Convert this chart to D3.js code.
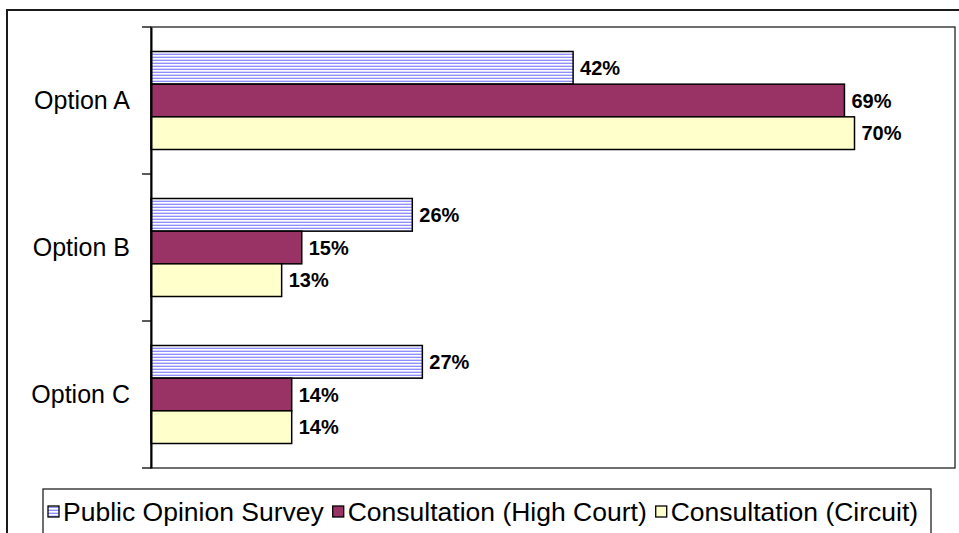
<!DOCTYPE html>
<html>
<head>
<meta charset="utf-8">
<script src="https://cdn.jsdelivr.net/npm/d3@7"></script>
<style>
  html, body { margin: 0; padding: 0; background: #fff; }
  svg { display: block; font-family: "Liberation Sans", Arial, sans-serif; }
</style>
</head>
<body>
<svg id="chart" width="959" height="533"></svg>
<script>
// ---- data ----
const categories = ["Option A", "Option B", "Option C"];
const seriesNames = ["Public Opinion Survey", "Consultation (High Court)", "Consultation (Circuit)"];
const surveyValues = [42, 26, 27];
const highCourtValues = [69, 15, 14];
const circuitValues = [70, 13, 14];
const xDomain = [0, 80];

const seriesValues = [surveyValues, highCourtValues, circuitValues];
const seriesFill = ["url(#stripes)", "#993366", "#ffffcc"];

const svg = d3.select("#chart");

// pattern
const defs = svg.append("defs");
const pat = defs.append("pattern").attr("id", "stripes")
  .attr("patternUnits", "userSpaceOnUse").attr("width", 6).attr("height", 3);
pat.append("rect").attr("width", 6).attr("height", 3).attr("fill", "#ffffff");
pat.append("rect").attr("y", 0).attr("width", 6).attr("height", 1).attr("fill", "#8f8fff");
pat.append("rect").attr("y", 2).attr("width", 6).attr("height", 1).attr("fill", "#d6d6ff");

// outer chart border (extends beyond the viewport on right & bottom)
svg.append("rect").attr("x", 7).attr("y", 10).attr("width", 1000).attr("height", 600)
  .attr("fill", "none").attr("stroke", "#1a1a1a").attr("stroke-width", 2);

const plot = { left: 151, top: 27, right: 955, bottom: 468 };

const x = d3.scaleLinear().domain(xDomain).range([plot.left, plot.right]);
const y0 = d3.scaleBand().domain(categories).range([plot.top, plot.bottom]).padding(0);
const y1 = d3.scaleBand().domain(seriesNames).range([0, y0.bandwidth()])
  .paddingInner(0).paddingOuter(0.75);

// plot area frame
svg.append("rect").attr("x", plot.left).attr("y", plot.top)
  .attr("width", plot.right - plot.left).attr("height", plot.bottom - plot.top)
  .attr("fill", "none").attr("stroke", "#222").attr("stroke-width", 1.3);

// bars
categories.forEach((cat, ci) => {
  const g = svg.append("g").attr("transform", `translate(0,${y0(cat)})`);
  seriesNames.forEach((s, si) => {
    const v = seriesValues[si][ci];
    g.append("rect")
      .attr("x", x(0)).attr("y", y1(s))
      .attr("width", x(v) - x(0)).attr("height", y1.bandwidth())
      .attr("fill", seriesFill[si]).attr("stroke", "#000").attr("stroke-width", 1.5);
    g.append("text")
      .attr("x", x(v) + 7).attr("y", y1(s) + y1.bandwidth() / 2)
      .attr("dy", "0.36em")
      .attr("font-size", 20).attr("font-weight", "bold").attr("fill", "#000")
      .text(v + "%");
  });
});

// y axis
const yAxis = d3.axisLeft(y0).tickSize(0).tickPadding(21);
const ax = svg.append("g").attr("transform", `translate(${plot.left},0)`).call(yAxis);
ax.select(".domain").attr("stroke", "#000").attr("stroke-width", 2);
ax.selectAll(".tick text").attr("font-size", 25).attr("fill", "#000")
  .attr("font-family", "Liberation Sans, Arial, sans-serif");
// boundary tick marks
const boundaries = categories.map(c => y0(c)).concat([plot.bottom]);
svg.selectAll(".btick").data(boundaries).join("line")
  .attr("x1", plot.left - 9).attr("x2", plot.left)
  .attr("y1", d => d).attr("y2", d => d)
  .attr("stroke", "#000").attr("stroke-width", 1.3);

// legend
const legend = svg.append("g");
legend.append("rect").attr("x", 43).attr("y", 489).attr("width", 888).attr("height", 60)
  .attr("fill", "#fff").attr("stroke", "#222").attr("stroke-width", 1.3);
let lx = 48;
seriesNames.forEach((s, si) => {
  legend.append("rect").attr("x", lx).attr("y", 506).attr("width", 11).attr("height", 11)
    .attr("fill", seriesFill[si]).attr("stroke", "#000").attr("stroke-width", 1.3);
  const t = legend.append("text").attr("x", lx + 15).attr("y", 521)
    .attr("font-size", 26.5).attr("fill", "#000").text(s);
  lx += 15 + t.node().getComputedTextLength() + 9;
});
</script>
</body>
</html>
